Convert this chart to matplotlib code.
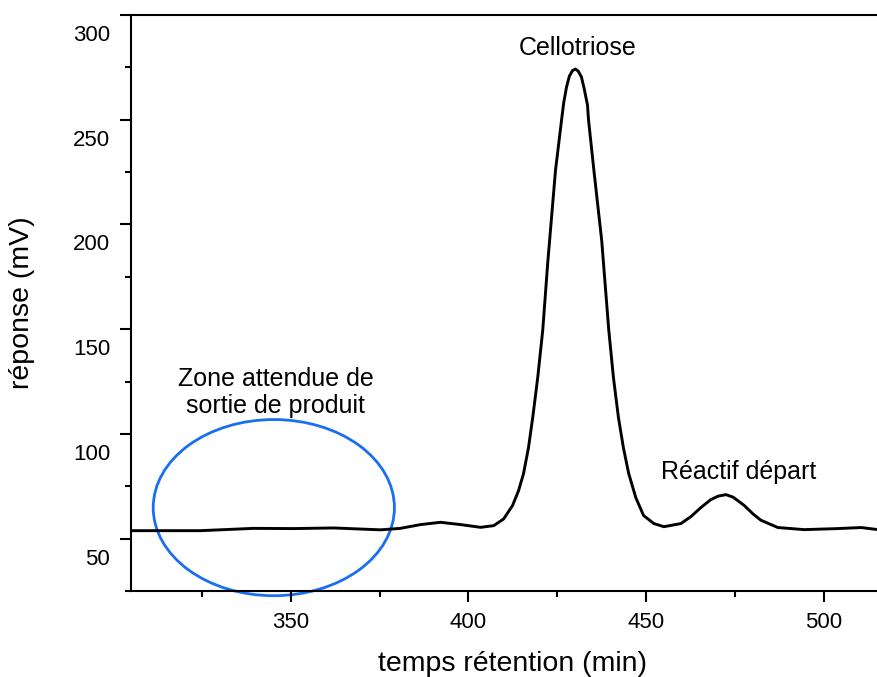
import matplotlib
matplotlib.use("Agg")
import matplotlib.pyplot as plt
import matplotlib.transforms as mtransforms
from matplotlib.patches import Ellipse
from matplotlib.ticker import MultipleLocator

plt.rcParams["font.family"] = ["Liberation Sans", "DejaVu Sans"]

# chromatogramme (temps en min, réponse en mV)
TEMPS = [305.0, 324.5, 339.4, 350.7, 362.0, 375.2, 380.8, 386.5, 392.1,
         397.8, 403.4, 407.1, 409.9, 412.4, 414.1, 415.5, 416.9, 418.1,
         419.5, 420.9, 422.3, 424.5, 426.2, 426.8, 427.6, 428.4, 429.3,
         430.1, 430.9, 431.8, 432.6, 433.5, 433.8, 435.3, 437.5, 439.5,
         440.8, 442.2, 443.6, 445.1, 447.1, 449.3, 452.2, 455.0, 459.8,
         462.6, 465.4, 468.2, 470.3, 472.5, 474.5, 477.5, 480.1, 482.3,
         487.1, 494.5, 504.0, 510.5, 515.3]
REPONSE = [53.8, 53.8, 54.9, 54.8, 55.1, 54.2, 54.9, 56.7, 57.8,
           56.7, 55.4, 56.2, 59.4, 65.8, 72.9, 81.1, 93.5, 108.0,
           127.0, 149.4, 181.5, 225.9, 249.8, 258.0, 265.6, 270.8, 273.5,
           274.2, 273.2, 270.4, 264.6, 257.0, 249.8, 225.9, 192.4, 149.4,
           127.0, 108.0, 93.5, 81.1, 69.6, 61.0, 57.2, 55.7, 57.2,
           60.5, 64.8, 68.6, 70.3, 71.0, 69.8, 66.0, 61.8, 58.8,
           55.3, 54.3, 54.8, 55.3, 54.3]

XLIM = (305, 515)
YLIM = (25, 300)

fig = plt.figure(figsize=(8.77, 6.77), dpi=100)
ax = fig.add_axes([131 / 877, 1 - 591 / 677, 1 - 131 / 877, (591 - 15) / 677])

ax.plot(TEMPS, REPONSE, color="black", lw=2.1, solid_joinstyle="round")

# zone attendue (ellipse bleue)
zone = Ellipse((345.2, 64.8), 67.9, 84.1, fill=False, edgecolor="#1a6ef2",
               lw=2.0, clip_on=False)
ax.add_patch(zone)

ax.text(430.6, 284.2, "Cellotriose", fontsize=18, ha="center", va="center")
ax.text(345.7, 119.8, "Zone attendue de\nsortie de produit", fontsize=18,
        ha="center", va="center", multialignment="center")
ax.text(476.0, 81.7, "Réactif départ", fontsize=18, ha="center", va="center")

ax.set_xlim(*XLIM)
ax.set_ylim(*YLIM)
ax.xaxis.set_major_locator(MultipleLocator(50))
ax.xaxis.set_minor_locator(MultipleLocator(25))
ax.yaxis.set_major_locator(MultipleLocator(50))
ax.yaxis.set_minor_locator(MultipleLocator(25))

for s in ["left", "bottom", "top"]:
    ax.spines[s].set_linewidth(1.5)
ax.spines["right"].set_visible(False)

ax.tick_params(which="major", direction="out", length=8, width=1.5,
               labelsize=16, pad=7)
ax.tick_params(which="minor", direction="out", length=4, width=1.5)
ax.tick_params(axis="x", top=False, which="both")

# les étiquettes de y sont décalées vers le bas dans l'original
offset = mtransforms.ScaledTranslation(0, -0.18, fig.dpi_scale_trans)
for lab in ax.get_yticklabels():
    lab.set_transform(lab.get_transform() + offset)

ax.set_xlabel("temps rétention (min)", fontsize=20.5)
ax.xaxis.set_label_coords((512 - 131) / 746, -0.105)
ax.set_ylabel("réponse (mV)", fontsize=20.5)
ax.yaxis.set_label_coords((35 - 131) / 746, 0.5)

fig.savefig("out.png", dpi=100)
